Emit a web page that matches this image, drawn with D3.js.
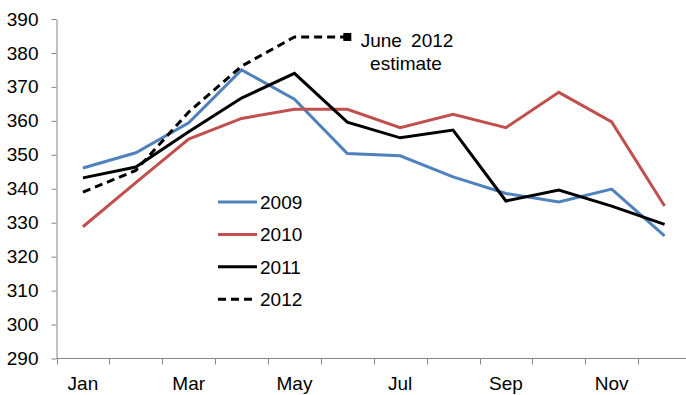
<!DOCTYPE html>
<html>
<head>
<meta charset="utf-8">
<script src="https://cdn.jsdelivr.net/npm/d3@7"></script>
<style>
  body { margin: 0; background: #fff; }
  svg text { font-family: "Liberation Sans", Arial, sans-serif; fill: #000; }
</style>
</head>
<body>
<div id="chart"></div>
<script>
// data
const months = ["Jan","Feb","Mar","Apr","May","Jun","Jul","Aug","Sep","Oct","Nov","Dec"];
const tickMonths = ["Jan","Mar","May","Jul","Sep","Nov"];
const yTicks = [290,300,310,320,330,340,350,360,370,380,390];
const v2009 = [346.1, 350.6, 359.4, 375.0, 366.4, 350.4, 349.7, 343.5, 338.6, 336.1, 339.9, 326.1];
const v2010 = [328.8, 341.8, 354.6, 360.7, 363.4, 363.4, 358.0, 361.9, 358.0, 368.4, 359.7, 334.9];
const v2011 = [343.2, 346.4, 356.8, 366.7, 374.0, 359.6, 355.0, 357.3, 336.4, 339.6, 334.9, 329.5];
const v2012 = [339.0, 345.4, 362.6, 376.1, 384.7, 384.7];

const series = [
  {name: "2009", values: v2009, color: "#4f81bd", dash: null},
  {name: "2010", values: v2010, color: "#c0504d", dash: null},
  {name: "2011", values: v2011, color: "#000000", dash: null},
  {name: "2012", values: v2012, color: "#000000", dash: "8,5"}
];

const W = 686, H = 395;
const svg = d3.select("#chart").append("svg")
    .attr("width", W).attr("height", H);

let x = d3.scaleBand().domain(months).range([56.5, 691]);
let y = d3.scaleLinear().domain([290, 390]).range([358.5, 19]);

// y axis
let yaxis = svg.append("g")
    .attr("transform", "translate(56.5,0)")
    .call(d3.axisLeft(y).tickValues(yTicks).tickSize(5).tickSizeOuter(0).tickPadding(13));
yaxis.select(".domain").attr("stroke", "#868686");
yaxis.selectAll(".tick line").attr("stroke", "#868686");
yaxis.selectAll(".tick text").style("font-size", "19px");

// x axis, ticks on band edges
let xaxis = svg.append("g")
    .attr("transform", "translate(0,358.5)");
xaxis.append("line")
    .attr("x1", 56.5).attr("x2", 691)
    .attr("stroke", "#868686");
xaxis.selectAll("line.tk")
    .data(months.concat(["end"]))
    .enter().append("line")
    .attr("class", "tk")
    .attr("x1", (d, i) => Math.round(56.5 + i * x.step()) + 0.5)
    .attr("x2", (d, i) => Math.round(56.5 + i * x.step()) + 0.5)
    .attr("y1", 0).attr("y2", 6)
    .attr("stroke", "#868686");
xaxis.selectAll("text")
    .data(tickMonths)
    .enter().append("text")
    .attr("x", d => x(d) + x.bandwidth() / 2)
    .attr("y", 31)
    .attr("text-anchor", "middle")
    .style("font-size", "19px")
    .text(d => d);

// lines
let line = d3.line()
    .x((d, i) => x(months[i]) + x.bandwidth() / 2)
    .y(d => y(d));

svg.append("g").selectAll("path")
    .data(series)
    .enter().append("path")
    .attr("d", d => line(d.values))
    .attr("fill", "none")
    .attr("stroke", d => d.color)
    .attr("stroke-width", 3)
    .attr("stroke-dasharray", d => d.dash);

// June 2012 estimate marker
let last = v2012.length - 1;
svg.append("rect")
    .attr("x", x(months[last]) + x.bandwidth() / 2 - 4)
    .attr("y", y(v2012[last]) - 4)
    .attr("width", 8).attr("height", 8)
    .attr("fill", "#000");
svg.append("text")
    .attr("x", 407).attr("y", 47)
    .attr("text-anchor", "middle")
    .style("font-size", "19px")
    .style("word-spacing", "4px")
    .text("June 2012");
svg.append("text")
    .attr("x", 406).attr("y", 70)
    .attr("text-anchor", "middle")
    .style("font-size", "19px")
    .text("estimate");

// legend
let legend = svg.append("g");
let lg = legend.selectAll("g")
    .data(series)
    .enter().append("g")
    .attr("transform", (d, i) => "translate(218," + (202 + i * 32.4) + ")");
lg.append("line")
    .attr("x1", 0).attr("x2", 39)
    .attr("stroke", d => d.color)
    .attr("stroke-width", 3)
    .attr("stroke-dasharray", d => d.dash);
lg.append("text")
    .attr("x", 42).attr("y", 7)
    .style("font-size", "19px")
    .text(d => d.name);
</script>
</body>
</html>
